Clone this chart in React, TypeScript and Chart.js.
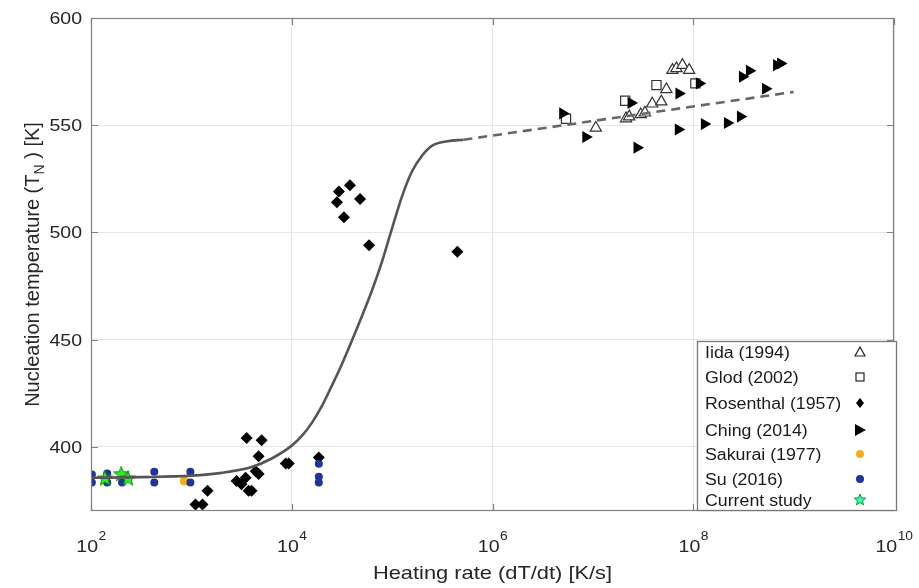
import React, { useEffect, useRef } from "react";
import { Chart, registerables } from "chart.js";

Chart.register(...registerables);

// ---------- axis ticks ----------
const xTickExponents = [2, 4, 6, 8, 10];
const yTickValues = [400, 450, 500, 550, 600];

// ---------- data (heating rate in K/s, temperature in K) ----------
const iidaRate = [1.07e7, 2.14e7, 2.3e7, 3.0e7, 3.3e7, 3.9e7, 4.8e7, 5.4e7, 6.2e7, 6.8e7, 7.8e7, 9.1e7];
const iidaTemp = [548.7, 553.1, 554.0, 555.0, 555.8, 560.0, 561.0, 566.7, 575.7, 576.5, 578.0, 575.7];

const glodRate = [5.4e6, 2.1e7, 4.3e7, 1.05e8];
const glodTemp = [553.0, 561.4, 568.7, 569.5];

const rosenRate = [1100, 1290, 1450, 2820, 3160, 3470, 3720, 3980, 3550, 5010, 4680, 4370, 4680, 8710, 9330, 18600, 29500, 28200, 38000, 47900, 33100, 58900, 447000];
const rosenTemp = [373.0, 373.0, 379.5, 384.0, 382.5, 385.5, 379.5, 379.5, 404.0, 403.0, 395.5, 388.5, 387.3, 392.2, 392.2, 395.0, 519.0, 514.0, 522.0, 515.5, 507.0, 494.0, 491.0];

const chingRate = [5.0e6, 8.5e6, 2.75e7, 2.4e7, 7.2e7, 1.15e8, 7.1e7, 1.29e8, 2.19e8, 2.95e8, 3.09e8, 3.63e8, 5.25e8, 6.76e8, 7.41e8];
const chingTemp = [555.5, 544.5, 539.5, 560.4, 564.8, 569.5, 548.0, 550.5, 551.0, 554.0, 572.6, 575.4, 567.0, 578.0, 578.8];

const sakuraiRate = [850];
const sakuraiTemp = [384.0];

const suRate = [102, 102, 145, 145, 204, 427, 427, 977, 977, 18600, 18600, 18600];
const suTemp = [387.0, 383.3, 387.5, 383.3, 383.3, 388.3, 383.3, 388.3, 383.3, 392.0, 386.0, 383.3];

const currentRate = [138, 200, 234];
const currentTemp = [385.3, 387.3, 385.3];

// fitted model curve (solid part)
const curveRate = [100, 316, 1000, 2000, 3980, 6310, 10000, 12600, 15800, 20000, 25100, 31600, 39800, 50100, 63100, 79400, 100000, 126000, 158000, 200000, 251000, 355000, 513000];
const curveTemp = [385.5, 385.8, 386.5, 387.8, 390.5, 394.5, 400.5, 405.0, 411.0, 419.0, 428.5, 438.5, 449.5, 461.0, 473.0, 486.5, 502.0, 517.0, 528.5, 536.0, 540.5, 542.5, 543.2];

// extrapolated (dashed) part
const extrapRate = [513000, 1.0e9];
const extrapTemp = [543.2, 565.5];

const legendLabels = ["Iida (1994)", "Glod (2002)", "Rosenthal (1957)", "Ching (2014)", "Sakurai (1977)", "Su (2016)", "Current study"];

const FONT = '"Liberation Sans", Arial, Helvetica, sans-serif';
const TEXT = "#262626";
const AXIS = "#808080";
const SAKURAI = "#EDB120";
const SU = "#1F3496";

const pts = (xs: number[], ys: number[]) => xs.map((x, i) => ({ x, y: ys[i] }));

function starPath(ctx: CanvasRenderingContext2D, cx: number, cy: number, R: number, r: number) {
  ctx.beginPath();
  for (let i = 0; i < 10; i++) {
    const ang = -Math.PI / 2 + (i * Math.PI) / 5;
    const rad = i % 2 === 0 ? R : r;
    const px = cx + rad * Math.cos(ang);
    const py = cy + rad * Math.sin(ang);
    if (i === 0) ctx.moveTo(px, py);
    else ctx.lineTo(px, py);
  }
  ctx.closePath();
}

function makeStar(fill: string, stroke: string, R: number) {
  const size = Math.ceil(R * 2 + 4);
  const c = document.createElement("canvas");
  c.width = size;
  c.height = size;
  const g = c.getContext("2d")!;
  starPath(g, size / 2, size / 2 + 0.5, R, R * 0.42);
  g.fillStyle = fill;
  g.fill();
  g.lineWidth = 1;
  g.strokeStyle = stroke;
  g.stroke();
  return c;
}

function drawText(
  ctx: CanvasRenderingContext2D,
  str: string,
  x: number,
  y: number,
  size: number,
  align: "left" | "center" | "right",
  sx = 1,
  color = TEXT
) {
  ctx.save();
  ctx.font = `${size}px ${FONT}`;
  ctx.fillStyle = color;
  ctx.textBaseline = "alphabetic";
  ctx.textAlign = "left";
  const w = ctx.measureText(str).width * sx;
  const x0 = align === "left" ? x : align === "center" ? x - w / 2 : x - w;
  ctx.translate(x0, y);
  ctx.scale(sx, 1);
  ctx.fillText(str, 0, 0);
  ctx.restore();
  return w;
}

function measure(ctx: CanvasRenderingContext2D, str: string, size: number) {
  ctx.save();
  ctx.font = `${size}px ${FONT}`;
  const w = ctx.measureText(str).width;
  ctx.restore();
  return w;
}

const decorPlugin = {
  id: "decor",
  afterDraw(chart: any) {
    const ctx: CanvasRenderingContext2D = chart.ctx;
    const a = chart.chartArea;
    const xs = chart.scales.x;
    const ys = chart.scales.y;
    ctx.save();

    // box
    ctx.strokeStyle = AXIS;
    ctx.lineWidth = 1.2;
    ctx.strokeRect(a.left + 0.5, a.top + 0.5, a.right - a.left - 1, a.bottom - a.top - 1);

    // inner tick marks
    ctx.beginPath();
    for (const v of yTickValues) {
      const py = Math.round(ys.getPixelForValue(v)) + 0.5;
      ctx.moveTo(a.left, py);
      ctx.lineTo(a.left + 7, py);
      ctx.moveTo(a.right, py);
      ctx.lineTo(a.right - 7, py);
    }
    for (const e of xTickExponents) {
      const px = Math.round(xs.getPixelForValue(Math.pow(10, e))) + 0.5;
      ctx.moveTo(px, a.bottom);
      ctx.lineTo(px, a.bottom - 7);
      ctx.moveTo(px, a.top);
      ctx.lineTo(px, a.top + 7);
    }
    ctx.stroke();

    // y tick labels
    for (const v of yTickValues) {
      const py = ys.getPixelForValue(v);
      drawText(ctx, String(v), a.left - 9, py + 6, 17, "right", 1.15);
    }

    // x tick labels 10^n
    const sx = 1.15;
    for (const e of xTickExponents) {
      const px = xs.getPixelForValue(Math.pow(10, e));
      const wMain = measure(ctx, "10", 17) * sx;
      const wSup = measure(ctx, String(e), 12) * sx;
      const x0 = px - (wMain + wSup) / 2;
      drawText(ctx, "10", x0, a.bottom + 41, 17, "left", sx);
      drawText(ctx, String(e), x0 + wMain + 0.5, a.bottom + 29, 12, "left", sx);
    }

    // x title
    drawText(ctx, "Heating rate (dT/dt) [K/s]", (a.left + a.right) / 2, a.bottom + 68, 19, "center", 1.15);

    // y title with subscript
    ctx.save();
    ctx.translate(39, (a.top + a.bottom) / 2);
    ctx.rotate(-Math.PI / 2);
    const p1 = "Nucleation temperature (T";
    const p2 = "N";
    const p3 = " ) [K]";
    const w1 = measure(ctx, p1, 20);
    const w2 = measure(ctx, p2, 14);
    const w3 = measure(ctx, p3, 20);
    let cx = -(w1 + w2 + w3) / 2;
    drawText(ctx, p1, cx, 0, 20, "left");
    cx += w1;
    drawText(ctx, p2, cx, 5, 14, "left");
    cx += w2;
    drawText(ctx, p3, cx, 0, 20, "left");
    ctx.restore();

    // legend
    const lw = 200;
    const lh = 170;
    const lx = a.right + 3 - lw;
    const ly = a.bottom - lh;
    ctx.fillStyle = "#ffffff";
    ctx.fillRect(lx, ly, lw, lh);
    ctx.strokeStyle = "#777777";
    ctx.lineWidth = 1.3;
    ctx.strokeRect(lx + 0.5, ly + 0.5, lw - 1, lh - 1);
    const rowOffsets = [11, 36, 62, 89, 113, 138, 159];
    const mx = lx + 163;
    legendLabels.forEach((lab, i) => {
      const cy = ly + rowOffsets[i];
      drawText(ctx, lab, lx + 8, cy + 6, 16, "left", 1.11, "#1a1a1a");
      ctx.save();
      ctx.lineWidth = 1.2;
      if (i === 0) {
        ctx.beginPath();
        ctx.moveTo(mx, cy - 5);
        ctx.lineTo(mx - 5, cy + 4);
        ctx.lineTo(mx + 5, cy + 4);
        ctx.closePath();
        ctx.fillStyle = "#fff";
        ctx.fill();
        ctx.strokeStyle = "#222";
        ctx.stroke();
      } else if (i === 1) {
        ctx.fillStyle = "#fff";
        ctx.fillRect(mx - 4, cy - 4, 8, 8);
        ctx.strokeStyle = "#222";
        ctx.strokeRect(mx - 4, cy - 4, 8, 8);
      } else if (i === 2) {
        ctx.beginPath();
        ctx.moveTo(mx, cy - 5);
        ctx.lineTo(mx + 4, cy);
        ctx.lineTo(mx, cy + 5);
        ctx.lineTo(mx - 4, cy);
        ctx.closePath();
        ctx.fillStyle = "#000";
        ctx.fill();
      } else if (i === 3) {
        ctx.beginPath();
        ctx.moveTo(mx + 6, cy);
        ctx.lineTo(mx - 5, cy - 6);
        ctx.lineTo(mx - 5, cy + 6);
        ctx.closePath();
        ctx.fillStyle = "#000";
        ctx.fill();
      } else if (i === 4 || i === 5) {
        ctx.beginPath();
        ctx.arc(mx, cy, 4, 0, Math.PI * 2);
        ctx.fillStyle = i === 4 ? SAKURAI : SU;
        ctx.fill();
      } else {
        starPath(ctx, mx, cy, 6, 2.6);
        ctx.fillStyle = "#3CF0D0";
        ctx.fill();
        ctx.strokeStyle = "#119911";
        ctx.lineWidth = 1;
        ctx.stroke();
      }
      ctx.restore();
    });

    ctx.restore();
  },
};

export default function App() {
  const ref = useRef<HTMLCanvasElement | null>(null);

  useEffect(() => {
    if (!ref.current) return;
    const star = makeStar("#2BEF2B", "#0A8F0A", 8);
    const chart = new Chart(ref.current, {
      type: "scatter",
      data: {
        datasets: [
          {
            label: "model",
            data: pts(curveRate, curveTemp),
            showLine: true,
            borderColor: "#555555",
            borderWidth: 2.6,
            pointRadius: 0,
            cubicInterpolationMode: "monotone",
          } as any,
          {
            label: "model extrapolated",
            data: pts(extrapRate, extrapTemp),
            showLine: true,
            borderColor: "#666666",
            borderWidth: 2.6,
            borderDash: [9, 6],
            pointRadius: 0,
          } as any,
          {
            label: legendLabels[6],
            data: pts(currentRate, currentTemp),
            pointStyle: star,
            pointRadius: 8,
          } as any,
          {
            label: legendLabels[5],
            data: pts(suRate, suTemp),
            pointStyle: "circle",
            pointRadius: 4,
            backgroundColor: SU,
            borderColor: SU,
            borderWidth: 0,
          },
          {
            label: legendLabels[4],
            data: pts(sakuraiRate, sakuraiTemp),
            pointStyle: "circle",
            pointRadius: 4.5,
            backgroundColor: SAKURAI,
            borderColor: SAKURAI,
            borderWidth: 0,
          },
          {
            label: legendLabels[3],
            data: pts(chingRate, chingTemp),
            pointStyle: "triangle",
            pointRotation: 90,
            pointRadius: 7,
            backgroundColor: "#000",
            borderColor: "#000",
            borderWidth: 0,
          } as any,
          {
            label: legendLabels[2],
            data: pts(rosenRate, rosenTemp),
            pointStyle: "rectRot",
            pointRadius: 6,
            backgroundColor: "#000",
            borderColor: "#000",
            borderWidth: 0,
          },
          {
            label: legendLabels[1],
            data: pts(glodRate, glodTemp),
            pointStyle: "rect",
            pointRadius: 6.5,
            backgroundColor: "#fff",
            borderColor: "#333",
            borderWidth: 1.2,
          },
          {
            label: legendLabels[0],
            data: pts(iidaRate, iidaTemp),
            pointStyle: "triangle",
            pointRadius: 6.5,
            backgroundColor: "#fff",
            borderColor: "#333",
            borderWidth: 1.2,
          },
        ],
      },
      options: {
        animation: false,
        responsive: false,
        maintainAspectRatio: false,
        devicePixelRatio: 1,
        layout: { padding: { left: 0, top: 18, right: 25, bottom: 0 } },
        plugins: {
          legend: { display: false },
          tooltip: { enabled: false },
          title: { display: false },
        },
        scales: {
          x: {
            type: "logarithmic",
            min: 1e2,
            max: 1e10,
            afterBuildTicks: (s: any) => {
              s.ticks = xTickExponents.map((e) => ({ value: Math.pow(10, e) }));
            },
            afterFit: (s: any) => {
              s.height = 77;
            },
            ticks: { display: false },
            grid: { color: "#e6e6e6", lineWidth: 1, drawTicks: false },
            border: { display: false },
          },
          y: {
            type: "linear",
            min: 370,
            max: 600,
            afterBuildTicks: (s: any) => {
              s.ticks = yTickValues.map((v) => ({ value: v }));
            },
            afterFit: (s: any) => {
              s.width = 91;
            },
            ticks: { display: false },
            grid: { color: "#e6e6e6", lineWidth: 1, drawTicks: false },
            border: { display: false },
          },
        },
      } as any,
      plugins: [decorPlugin],
    });
    return () => chart.destroy();
  }, []);

  return (
    <div style={{ position: "fixed", left: 0, top: 0, width: 919, height: 588, background: "#fff" }}>
      <canvas ref={ref} width={919} height={588} style={{ display: "block" }} />
    </div>
  );
}
